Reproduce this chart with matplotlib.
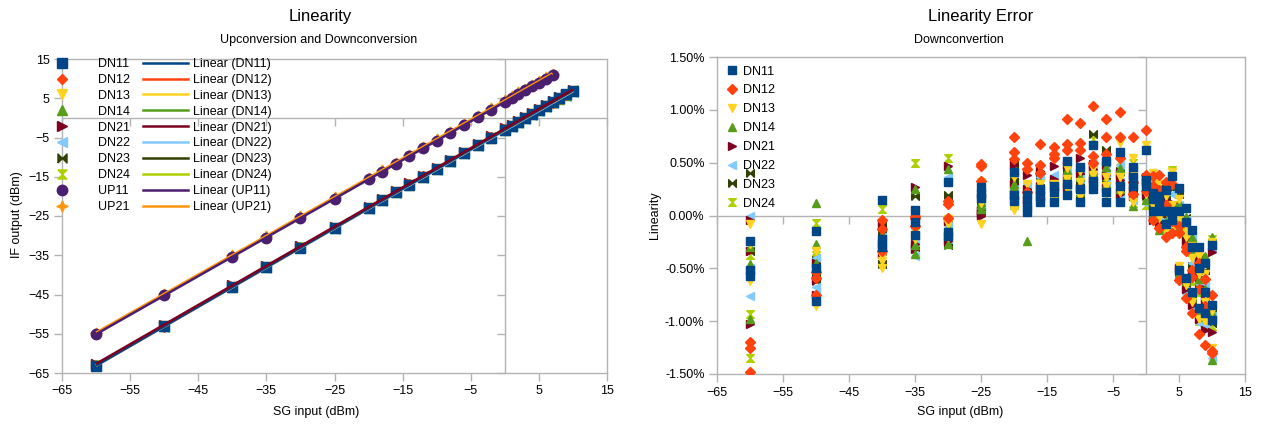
import numpy as np
import matplotlib
matplotlib.use('Agg')
import matplotlib.pyplot as plt
from matplotlib.path import Path
from matplotlib.lines import Line2D
from matplotlib.ticker import FuncFormatter

plt.rcParams['font.family'] = ['Liberation Sans', 'DejaVu Sans']

# ---------------- data ----------------
sg_dn = [-60, -50, -40, -35, -30, -25, -20, -18, -16, -14, -12, -10, -8, -6, -4, -2,
         0, 1, 2, 3, 4, 5, 6, 7, 8, 9, 10]
sg_up = [-60, -50, -40, -35, -30, -25, -20, -18, -16, -14, -12, -10, -8, -6, -4, -2,
         0, 1, 2, 3, 4, 5, 6, 7]

out_dn11 = [-63.1, -53.1, -43.1, -38.1, -33.1, -28.1, -23.0, -21.0, -19.0, -17.0, -15.0, -13.0, -11.0, -9.0, -7.0, -5.0, -3.0, -2.0, -1.0, 0.0, 1.0, 2.0, 3.0, 4.0, 5.0, 6.0, 6.9]
out_dn12 = [-63.2, -53.2, -43.1, -38.1, -33.1, -28.0, -23.0, -21.0, -19.0, -16.9, -14.9, -12.9, -10.9, -8.9, -6.9, -4.9, -2.9, -2.0, -1.0, 0.0, 1.0, 1.9, 2.9, 3.9, 4.9, 5.8, 6.8]
out_dn13 = [-63.1, -53.1, -43.1, -38.1, -33.1, -28.0, -23.0, -21.0, -19.0, -17.0, -15.0, -13.0, -11.0, -9.0, -7.0, -5.0, -3.0, -2.0, -1.0, 0.0, 1.0, 2.0, 3.0, 3.9, 4.9, 5.9, 6.8]
out_dn14 = [-63.0, -53.0, -43.0, -38.0, -33.0, -28.0, -23.0, -21.0, -19.0, -17.0, -15.0, -13.0, -11.0, -9.0, -7.0, -5.0, -3.0, -2.0, -1.0, 0.0, 1.0, 2.0, 3.0, 4.0, 4.9, 5.9, 6.9]
out_dn21 = [-62.7, -52.7, -42.7, -37.7, -32.7, -27.7, -22.7, -20.7, -18.7, -16.7, -14.7, -12.7, -10.7, -8.7, -6.7, -4.7, -2.7, -1.7, -0.7, 0.3, 1.3, 2.3, 3.2, 4.2, 5.2, 6.2, 7.1]
out_dn22 = [-63.2, -53.2, -43.2, -38.2, -33.2, -28.2, -23.2, -21.2, -19.2, -17.2, -15.2, -13.2, -11.2, -9.2, -7.2, -5.2, -3.2, -2.2, -1.2, -0.2, 0.8, 1.8, 2.8, 3.7, 4.7, 5.7, 6.7]
out_dn23 = [-62.9, -52.9, -42.9, -37.9, -32.9, -27.9, -22.9, -20.9, -18.9, -16.9, -14.9, -12.9, -10.9, -8.9, -6.9, -4.9, -2.9, -1.9, -0.9, 0.1, 1.1, 2.1, 3.1, 4.0, 5.0, 6.0, 7.0]
out_dn24 = [-63.0, -53.0, -43.0, -38.0, -33.0, -28.0, -23.0, -21.0, -19.0, -17.0, -15.0, -13.0, -11.0, -9.0, -7.0, -5.0, -3.0, -2.0, -1.0, 0.0, 1.0, 2.0, 3.0, 3.9, 4.9, 5.9, 6.9]
out_up11 = [-55.1, -45.2, -35.4, -30.5, -25.5, -20.6, -15.7, -13.7, -11.8, -9.8, -7.8, -5.8, -3.9, -1.9, 0.1, 2.1, 4.1, 5.1, 6.1, 7.0, 8.0, 9.0, 9.9, 10.9]
out_up21 = [-54.7, -44.8, -35.0, -30.1, -25.1, -20.2, -15.3, -13.3, -11.4, -9.4, -7.4, -5.4, -3.5, -1.5, 0.5, 2.5, 4.5, 5.5, 6.5, 7.4, 8.4, 9.4, 10.3, 11.3]

# Linearity error (%), three measurements per input level
err_dn11 = [[-0.24, -0.52, -0.57], [-0.15, -0.50, -0.81], [0.15, -0.22, -0.30], [0.05, -0.06, -0.18],
            [0.32, -0.16, -0.19], [0.27, 0.20, 0.17], [0.41, 0.19, 0.14], [0.19, 0.11, 0.03],
            [0.25, 0.18, 0.13], [0.28, 0.22, 0.13], [0.52, 0.30, 0.19], [0.46, 0.25, 0.13],
            [0.67, 0.33, 0.25], [0.52, 0.22, 0.13], [0.60, 0.28, 0.13], [0.46, 0.36, 0.28],
            [0.62, 0.34, 0.28], [0.21, 0.04, 0.16], [0.13, 0.04, 0.18], [0.24, 0.04, -0.08],
            [0.37, 0.04, -0.04], [0.26, 0.04, -0.52], [0.07, -0.06, -0.59], [-0.14, -0.30, -0.72],
            [-0.30, -0.50, -0.88], [-0.45, -0.72, -0.92], [-0.28, -0.85, -0.99]]
err_dn12 = [[-1.20, -1.25, -1.48], [-0.53, -0.59, -0.75], [-0.04, -0.13, -0.34], [0.00, -0.02, -0.10],
            [0.11, 0.14, -0.02], [0.49, 0.47, 0.33], [0.74, 0.60, 0.53], [0.50, 0.44, 0.22],
            [0.68, 0.48, 0.40], [0.65, 0.58, 0.54], [0.91, 0.68, 0.62], [0.88, 0.69, 0.62],
            [1.04, 0.56, 0.50], [0.91, 0.74, 0.58], [0.98, 0.74, 0.54], [0.74, 0.20, 0.32],
            [0.81, 0.38, 0.23], [0.37, -0.04, 0.28], [0.38, -0.12, 0.24], [0.32, -0.20, 0.10],
            [0.30, -0.17, -0.05], [-0.17, -0.10, -0.61], [-0.30, -0.34, -0.78], [-0.52, -0.58, -0.92],
            [-0.45, -0.70, -1.12], [-0.60, -0.86, -1.23], [-0.75, -1.28, -1.30]]
err_dn13 = [[-0.08, -0.27, -0.62], [-0.34, -0.56, -0.86], [-0.38, -0.43, -0.50], [-0.13, -0.20, -0.22],
            [-0.03, -0.08, -0.20], [0.32, 0.12, -0.08], [0.36, 0.08, 0.05], [0.30, 0.17, 0.05],
            [0.30, 0.22, 0.15], [0.30, 0.20, 0.16], [0.45, 0.35, 0.25], [0.42, 0.32, 0.18],
            [0.45, 0.38, 0.30], [0.28, 0.36, 0.20], [0.69, 0.36, 0.22], [0.54, 0.13, 0.40],
            [0.67, 0.30, 0.20], [0.40, 0.30, 0.10], [0.30, -0.02, 0.12], [0.18, -0.14, 0.05],
            [0.41, -0.14, 0.10], [0.16, -0.03, -0.48], [-0.15, -0.20, -0.66], [-0.29, -0.40, -0.82],
            [-0.38, -0.55, -0.98], [-0.55, -0.82, -1.00], [-0.25, -0.90, -1.25]]
err_dn14 = [[-0.30, -0.46, -0.98], [0.12, -0.27, -0.45], [-0.18, -0.23, -0.26], [0.25, -0.28, -0.36],
            [0.44, -0.12, -0.27], [0.13, 0.10, 0.06], [0.30, 0.27, 0.12], [0.20, 0.12, -0.24],
            [0.19, 0.25, 0.32], [0.21, 0.27, 0.18], [0.43, 0.38, 0.30], [0.36, 0.30, 0.22],
            [0.43, 0.36, 0.40], [0.46, 0.30, 0.24], [0.45, 0.30, 0.25], [0.09, 0.30, 0.20],
            [0.15, 0.25, 0.30], [0.24, 0.10, 0.02], [-0.14, 0.06, 0.20], [0.12, -0.06, -0.10],
            [0.30, -0.08, 0.06], [0.12, -0.10, -0.55], [-0.01, -0.14, -0.62], [-0.20, -0.35, -0.78],
            [-0.42, -0.60, -0.92], [-0.38, -0.70, -0.96], [-0.20, -0.92, -1.37]]
err_dn21 = [[-0.04, -0.34, -1.03], [-0.45, -0.61, -0.75], [-0.10, -0.27, -0.36], [0.27, -0.27, -0.32],
            [0.47, -0.05, -0.24], [0.05, 0.02, 0.00], [0.48, 0.30, 0.20], [0.38, 0.25, 0.15],
            [0.42, 0.28, 0.20], [0.47, 0.35, 0.30], [0.48, 0.36, 0.27], [0.54, 0.40, 0.26],
            [0.49, 0.44, 0.35], [0.48, 0.38, 0.26], [0.40, 0.34, 0.20], [0.38, 0.25, 0.18],
            [0.32, 0.20, 0.36], [-0.04, 0.12, 0.20], [0.08, -0.06, 0.16], [-0.10, 0.02, 0.14],
            [0.12, -0.10, 0.02], [0.05, -0.12, -0.50], [-0.10, -0.25, -0.70], [-0.25, -0.55, -0.85],
            [-0.42, -0.58, -0.98], [-0.70, -0.80, -1.08], [-0.35, -0.88, -1.10]]
err_dn22 = [[0.00, -0.50, -0.76], [-0.40, -0.68, -0.72], [-0.20, -0.25, -0.30], [-0.18, -0.25, -0.38],
            [0.36, -0.10, -0.22], [0.22, 0.15, 0.08], [0.40, 0.25, 0.15], [0.30, 0.18, 0.08],
            [0.36, 0.24, 0.18], [0.38, 0.32, 0.25], [0.50, 0.40, 0.28], [0.44, 0.35, 0.24],
            [0.50, 0.42, 0.32], [0.50, 0.40, 0.30], [0.48, 0.32, 0.18], [0.44, 0.30, 0.15],
            [0.12, 0.22, 0.28], [0.18, 0.06, 0.00], [0.10, 0.00, 0.22], [0.08, -0.04, -0.12],
            [0.20, -0.06, 0.00], [0.10, -0.05, -0.58], [-0.04, -0.18, -0.74], [-0.22, -0.45, -0.88],
            [-0.48, -0.65, -1.02], [-0.65, -0.85, -1.05], [-0.30, -0.95, -1.35]]
err_dn23 = [[0.40, -0.34, -0.52], [-0.42, -0.55, -0.62], [-0.07, -0.18, -0.46], [0.18, -0.08, -0.30],
            [0.19, -0.22, -0.28], [0.18, 0.10, 0.04], [0.49, 0.33, 0.22], [0.24, 0.15, 0.06],
            [0.38, 0.26, 0.16], [0.33, 0.25, 0.17], [0.40, 0.30, 0.22], [0.38, 0.30, 0.16],
            [0.77, 0.40, 0.28], [0.62, 0.38, 0.30], [0.42, 0.22, 0.16], [0.22, 0.35, 0.28],
            [0.26, 0.33, 0.18], [0.15, 0.08, 0.22], [0.02, 0.14, 0.26], [0.16, -0.02, -0.08],
            [0.25, 0.10, -0.12], [0.20, -0.08, -0.53], [-0.02, -0.22, -0.64], [-0.23, -0.48, -0.80],
            [-0.40, -0.68, -0.95], [-0.52, -0.75, -0.98], [-0.26, -0.92, -1.02]]
err_dn24 = [[-0.37, -0.93, -1.35], [-0.07, -0.37, -0.40], [0.06, -0.22, -0.40], [0.50, -0.14, -0.16],
            [0.54, -0.09, -0.13], [0.15, 0.08, 0.03], [0.45, 0.28, 0.10], [0.28, 0.14, 0.09],
            [0.33, 0.21, 0.14], [0.28, 0.20, 0.15], [0.42, 0.33, 0.24], [0.40, 0.28, 0.20],
            [0.72, 0.38, 0.30], [0.56, 0.32, 0.22], [0.52, 0.35, 0.20], [0.50, 0.26, 0.12],
            [0.10, 0.20, 0.30], [0.26, 0.12, 0.05], [0.20, -0.10, 0.08], [0.20, -0.12, 0.00],
            [0.43, 0.00, -0.10], [0.15, -0.15, -0.59], [-0.12, -0.26, -0.68], [-0.32, -0.62, -0.75],
            [-0.50, -0.72, -1.00], [-0.58, -0.90, -1.02], [-0.22, -0.96, -1.05]]

dn_names = ['DN11', 'DN12', 'DN13', 'DN14', 'DN21', 'DN22', 'DN23', 'DN24']
up_names = ['UP11', 'UP21']

# ---------------- styles ----------------
bowtie = Path([(-1, -1), (0, 0), (1, -1), (1, 1), (0, 0), (-1, 1), (-1, -1)])
hourglass = Path([(-1, 1), (1, 1), (0, 0), (1, -1), (-1, -1), (0, 0), (-1, 1)])
star4 = Path([(0, 1), (0.3, 0.3), (1, 0), (0.3, -0.3), (0, -1), (-0.3, -0.3), (-1, 0), (-0.3, 0.3), (0, 1)])

colors = {'DN11': '#004586', 'DN12': '#FF420E', 'DN13': '#FFD320', 'DN14': '#579D1C',
          'DN21': '#7E0021', 'DN22': '#83CAFF', 'DN23': '#314004', 'DN24': '#AECF00',
          'UP11': '#4B1F6F', 'UP21': '#FF950E'}
markers = {'DN11': 's', 'DN12': 'D', 'DN13': 'v', 'DN14': '^', 'DN21': '>', 'DN22': '<',
           'DN23': bowtie, 'DN24': hourglass, 'UP11': 'o', 'UP21': star4}
msize = {'DN11': 6.5, 'DN12': 5.5, 'DN13': 7.5, 'DN14': 7.5, 'DN21': 7.5, 'DN22': 7.5,
         'DN23': 6.5, 'DN24': 6.5, 'UP11': 7.5, 'UP21': 8}

out_dn = [out_dn11, out_dn12, out_dn13, out_dn14, out_dn21, out_dn22, out_dn23, out_dn24]
out_up = [out_up11, out_up21]
err_dn = [err_dn11, err_dn12, err_dn13, err_dn14, err_dn21, err_dn22, err_dn23, err_dn24]

GRAY = '#b3b3b3'
FS = 9

fig = plt.figure(figsize=(12.63, 4.28), dpi=100)
W, H = 1263, 428


def frame(ax):
    for s in ax.spines.values():
        s.set_color(GRAY)
        s.set_linewidth(1)
    ax.tick_params(axis='both', direction='out', length=6, width=1, color=GRAY,
                   labelsize=FS, pad=3, labelcolor='black')


# ---------------- left chart ----------------
axL = fig.add_axes([62 / W, 1 - 373 / H, 545 / W, 314 / H])
frame(axL)
axL.set_xlim(-65, 15)
axL.set_ylim(-65, 15)
xt = np.arange(-65, 16, 10)
axL.set_xticks(xt)
axL.set_yticks(xt)
axL.axhline(0, color=GRAY, lw=1, zorder=1)
axL.axvline(0, color=GRAY, lw=1, zorder=1)
axL.plot(xt, np.zeros_like(xt), ls='none', marker=3, ms=6, mew=1, color=GRAY, zorder=1, clip_on=False)
axL.plot(np.zeros_like(xt), xt, ls='none', marker=0, ms=6, mew=1, color=GRAY, zorder=1, clip_on=False)

series_h, line_h = [], []
all_names = dn_names + up_names
all_x = [sg_dn] * 8 + [sg_up] * 2
all_y = out_dn + out_up
n = len(all_names)
for i, (name, xs, ys) in enumerate(zip(all_names, all_x, all_y)):
    axL.plot(xs, ys, ls='none', marker=markers[name], ms=msize[name], color=colors[name],
             mec=colors[name], zorder=3 + (n - i) * 0.01)
for i, (name, xs, ys) in enumerate(zip(all_names, all_x, all_y)):
    k, b = np.polyfit(xs, ys, 1)
    xx = np.array([min(xs), max(xs)])
    z = 4 + (n - i) * 0.01
    if name == 'DN21':
        z = 4.5
    axL.plot(xx, k * xx + b, color=colors[name], lw=1.8, zorder=z, solid_capstyle='butt')
    series_h.append(Line2D([], [], ls='none', marker=markers[name], ms=msize[name],
                           color=colors[name], label=name))
    line_h.append(Line2D([], [], color=colors[name], lw=1.8, label='Linear (%s)' % name))

leg1 = axL.legend(handles=series_h, loc='upper left', bbox_to_anchor=((49.5 - 62) / 545, 1.003),
                  frameon=False, fontsize=FS, handlelength=2.0, handletextpad=1.88,
                  labelspacing=0.31, borderpad=0, borderaxespad=0)
axL.add_artist(leg1)
axL.legend(handles=line_h, loc='upper left', bbox_to_anchor=((143 - 62) / 545, 1.003),
           frameon=False, fontsize=FS, handlelength=3.6, handletextpad=0.4,
           labelspacing=0.31, borderpad=0, borderaxespad=0)
fig.text(316 / W, 1 - 412 / H, 'SG input (dBm)', ha='center', va='center', fontsize=FS)
fig.text(17 / W, 1 - 215 / H, 'IF output (dBm)', ha='center', va='center', fontsize=FS, rotation=90)
fig.text(320 / W, 1 - 17 / H, 'Linearity', ha='center', va='center', fontsize=12)
fig.text(319 / W, 1 - 40 / H, 'Upconversion and Downconversion', ha='center', va='center', fontsize=FS)

# ---------------- right chart ----------------
axR = fig.add_axes([717 / W, 1 - 374 / H, 528 / W, 317 / H])
frame(axR)
axR.set_xlim(-65, 15)
axR.set_ylim(-1.5, 1.5)
axR.set_xticks(xt)
yt = np.arange(-1.5, 1.51, 0.5)
axR.set_yticks(yt)
axR.yaxis.set_major_formatter(FuncFormatter(lambda v, p: '%.2f%%' % v))
axR.axhline(0, color=GRAY, lw=1, zorder=1)
axR.axvline(0, color=GRAY, lw=1, zorder=1)
axR.plot(xt, np.zeros_like(xt), ls='none', marker=3, ms=6, mew=1, color=GRAY, zorder=1, clip_on=False)
axR.plot(np.zeros_like(yt), yt, ls='none', marker=0, ms=6, mew=1, color=GRAY, zorder=1, clip_on=False)

handlesR = []
rs = 0.85
for i, (name, e) in enumerate(zip(dn_names, err_dn)):
    e = np.array(e)
    xs = np.repeat(sg_dn, e.shape[1])
    axR.plot(xs, e.ravel(), ls='none', marker=markers[name], ms=msize[name] * rs,
             color=colors[name], zorder=10 - i)
    handlesR.append(Line2D([], [], ls='none', marker=markers[name], ms=msize[name] * rs,
                           color=colors[name], label=name))
axR.legend(handles=handlesR, loc='upper left', bbox_to_anchor=((725.5 - 717) / 528, 0.973),
           frameon=False, fontsize=FS, handlelength=1.0, handletextpad=0.38,
           labelspacing=0.55, borderpad=0, borderaxespad=0)
fig.text(960 / W, 1 - 412 / H, 'SG input (dBm)', ha='center', va='center', fontsize=FS)
fig.text(655 / W, 1 - 215 / H, 'Linearity', ha='center', va='center', fontsize=FS, rotation=90)
fig.text(981 / W, 1 - 17 / H, 'Linearity Error', ha='center', va='center', fontsize=12)
fig.text(959 / W, 1 - 40 / H, 'Downconvertion', ha='center', va='center', fontsize=FS)

fig.savefig('out.png', dpi=100)
